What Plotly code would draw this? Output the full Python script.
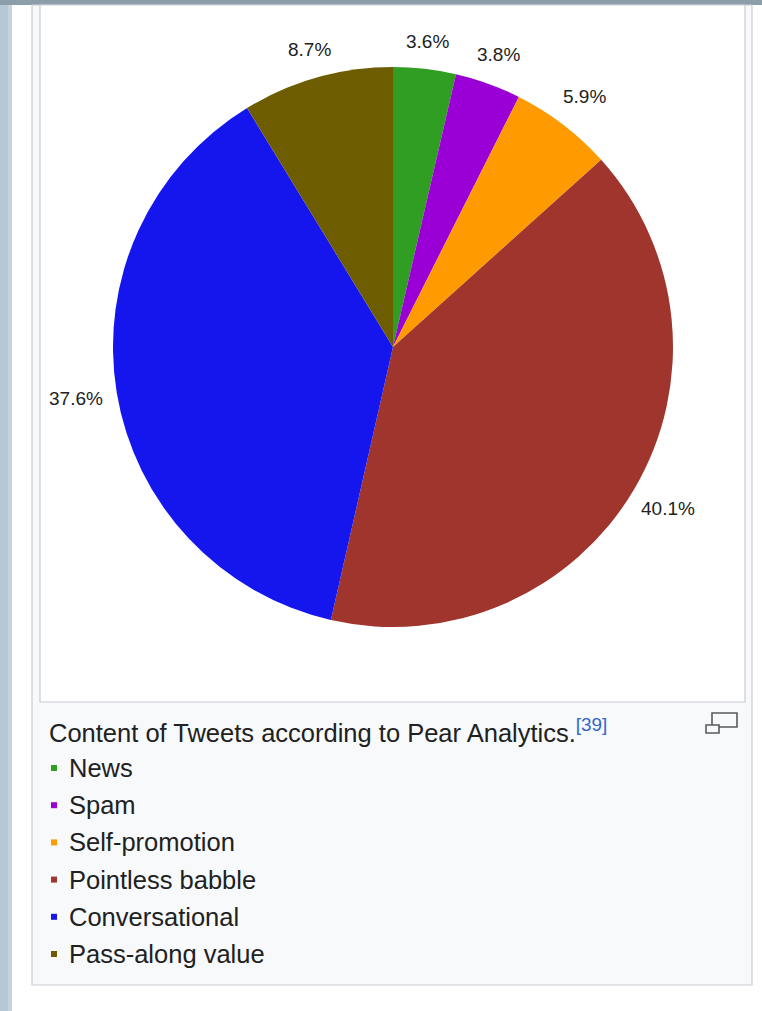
import math
import plotly.graph_objects as go

W, H = 762, 1011

# ---- data ----
labels = ["News", "Spam", "Self-promotion", "Pointless babble", "Conversational", "Pass-along value"]
values = [3.6, 3.8, 5.9, 40.1, 37.6, 8.7]
colors = ["#2f9e22", "#9a00d6", "#ff9a00", "#a0352e", "#1515ee", "#6e5d00"]
caption = "Content of Tweets according to Pear Analytics."
ref_mark = "[39]"

def X(px):
    return px / W

def Y(py):
    return 1 - py / H

cx, cy, R = 393, 347, 280

fig = go.Figure(go.Pie(
    labels=labels,
    values=values,
    marker=dict(colors=colors, line=dict(width=0)),
    sort=False,
    direction="clockwise",
    rotation=0,
    textinfo="none",
    hoverinfo="label+value",
    showlegend=False,
    domain=dict(x=[X(cx - R), X(cx + R)], y=[Y(cy + R), Y(cy - R)]),
))

shapes = []
# page background strips
shapes.append(dict(type="rect", xref="paper", yref="paper", x0=0, x1=X(12), y0=0, y1=1,
                   fillcolor="#b4c7d2", line=dict(width=0), layer="below"))
shapes.append(dict(type="rect", xref="paper", yref="paper", x0=X(8), x1=X(12), y0=0, y1=1,
                   fillcolor="#c6d4dd", line=dict(width=0), layer="below"))
shapes.append(dict(type="rect", xref="paper", yref="paper", x0=0, x1=1, y0=Y(5), y1=1,
                   fillcolor="#8c9ea9", line=dict(width=0), layer="below"))
# outer thumb box
shapes.append(dict(type="rect", xref="paper", yref="paper", x0=X(32), x1=X(752), y0=Y(985), y1=Y(5),
                   fillcolor="#f8f9fa", line=dict(color="#c8ccd1", width=1.2), layer="below"))
# inner image box
shapes.append(dict(type="rect", xref="paper", yref="paper", x0=X(40), x1=X(745), y0=Y(702), y1=Y(5),
                   fillcolor="#ffffff", line=dict(color="#c8ccd1", width=1.2), layer="below"))
# magnify icon
shapes.append(dict(type="rect", xref="paper", yref="paper", x0=X(712), x1=X(737), y0=Y(727), y1=Y(713),
                   line=dict(color="#5a5a5a", width=1.6), fillcolor="rgba(0,0,0,0)"))
shapes.append(dict(type="rect", xref="paper", yref="paper", x0=X(706), x1=X(719), y0=Y(733), y1=Y(725),
                   line=dict(color="#5a5a5a", width=1.6), fillcolor="#f8f9fa"))

annotations = []
font_main = "Liberation Sans, Arial, sans-serif"

# percentage labels outside the pie, placed at each slice's mid-angle
total = sum(values)
cum = 0.0
for v in values:
    mid = (cum + v / 2) / total * 2 * math.pi
    cum += v
    s, c = math.sin(mid), math.cos(mid)
    rl = R * 1.09 + 16 * abs(s)
    annotations.append(dict(
        xref="paper", yref="paper", x=X(cx + rl * s), y=Y(cy - rl * c),
        xanchor="center", yanchor="middle", text=f"{v}%", showarrow=False,
        font=dict(family=font_main, size=19, color="#222222"),
    ))

annotations.append(dict(
    xref="paper", yref="paper", x=X(47), y=Y(730), xanchor="left", yanchor="middle",
    text=caption + "<span style='color:#3366cc;font-size:27px'><sup>" + ref_mark + "</sup></span>",
    showarrow=False, font=dict(family=font_main, size=25.5, color="#202122"),
))

row0, step = 768, 37.2
for i, (lab, col) in enumerate(zip(labels, colors)):
    yc = row0 + i * step
    shapes.append(dict(type="rect", xref="paper", yref="paper", x0=X(51), x1=X(57), y0=Y(yc + 3), y1=Y(yc - 3),
                       fillcolor=col, line=dict(width=0)))
    annotations.append(dict(
        xref="paper", yref="paper", x=X(67), y=Y(yc), xanchor="left", yanchor="middle",
        text=lab, showarrow=False, font=dict(family=font_main, size=25.5, color="#202122"),
    ))

fig.update_layout(
    width=W, height=H,
    margin=dict(l=0, r=0, t=0, b=0),
    paper_bgcolor="#ffffff",
    plot_bgcolor="#ffffff",
    shapes=shapes,
    annotations=annotations,
)

fig.write_html(
    "out.html",
    config={"displayModeBar": False},
    post_script="document.body.style.margin='0';document.body.style.padding='0';"
                "document.documentElement.style.overflow='hidden';",
)
